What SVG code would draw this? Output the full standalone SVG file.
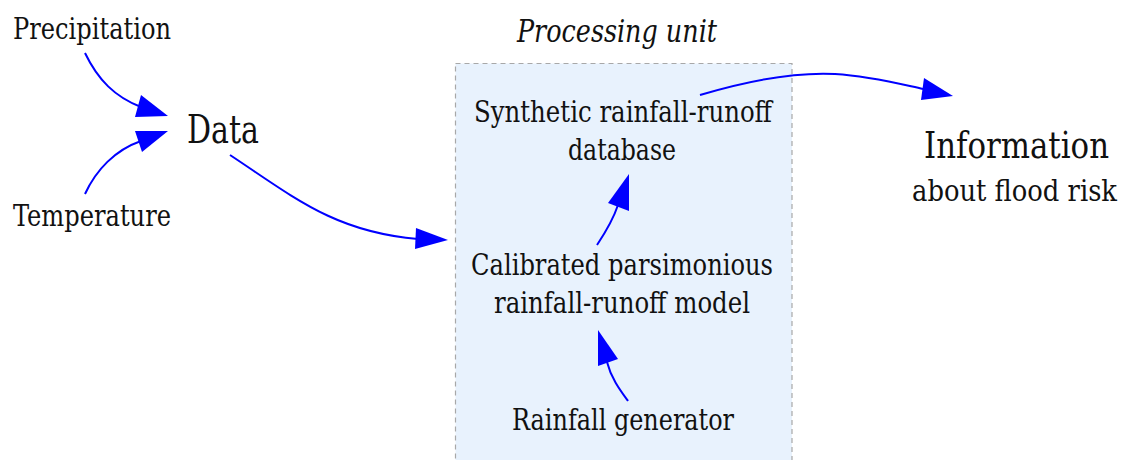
<svg xmlns="http://www.w3.org/2000/svg" width="1131" height="460" viewBox="0 0 1131 460">
  <style>
    text { font-family: "DejaVu Serif Condensed", "DejaVu Serif", "Liberation Serif", serif; fill: #111; }
    .edge { fill: none; stroke: #0000ff; stroke-width: 2; }
    .head { fill: #0000ff; stroke: none; }
    .unit { fill: #e8f2fd; stroke: #a8a8a8; stroke-width: 1.2; stroke-dasharray: 5 4; }
  </style>

  <!-- processing unit container -->
  <g id="processing-unit">
    <rect class="unit" x="455.5" y="63.5" width="336.5" height="410"/>
    <text x="517" y="42" font-size="31" font-style="italic" textLength="200" lengthAdjust="spacingAndGlyphs">Processing unit</text>
  </g>

  <g id="precipitation">
    <text x="13" y="39" font-size="29" textLength="158" lengthAdjust="spacingAndGlyphs">Precipitation</text>
  </g>
  <g id="temperature">
    <text x="13" y="226" font-size="29" textLength="158" lengthAdjust="spacingAndGlyphs">Temperature</text>
  </g>
  <g id="data">
    <text x="187" y="143" font-size="40" textLength="72" lengthAdjust="spacingAndGlyphs">Data</text>
  </g>
  <g id="database">
    <text x="474" y="122" font-size="30" textLength="298" lengthAdjust="spacingAndGlyphs">Synthetic rainfall-runoff</text>
    <text x="568" y="160" font-size="30" textLength="108" lengthAdjust="spacingAndGlyphs">database</text>
  </g>
  <g id="model">
    <text x="471" y="275" font-size="30" textLength="302" lengthAdjust="spacingAndGlyphs">Calibrated parsimonious</text>
    <text x="494" y="313" font-size="30" textLength="256" lengthAdjust="spacingAndGlyphs">rainfall-runoff model</text>
  </g>
  <g id="generator">
    <text x="512" y="430" font-size="30" textLength="222" lengthAdjust="spacingAndGlyphs">Rainfall generator</text>
  </g>
  <g id="information">
    <text x="924" y="158" font-size="38" textLength="185" lengthAdjust="spacingAndGlyphs">Information</text>
    <text x="1117" y="201" font-size="30" text-anchor="end" textLength="205" lengthAdjust="spacingAndGlyphs">about flood risk</text>
  </g>

  <!-- connectors -->
  <g id="connectors">
    <path class="edge" d="M85,53 C98,80 115,97 141,107"/>
    <polygon class="head" points="141,95 168,116 135,117"/>

    <path class="edge" d="M85,194 C96,170 115,150 141,141"/>
    <polygon class="head" points="135,131 168,131 142,152"/>

    <path class="edge" d="M230,155 C295,198 335,232 418,239"/>
    <polygon class="head" points="416,228 448,240 415,249"/>

    <path class="edge" d="M597,245 C605,233 613,220 618,205"/>
    <polygon class="head" points="629,174 629,211 608,203"/>

    <path class="edge" d="M628,401 C620,390 611,378 607,362"/>
    <polygon class="head" points="598,330 618,359 598,366"/>

    <path class="edge" d="M700,95 C750,80 795,72 835,74 C870,76 900,84 923,89"/>
    <polygon class="head" points="924,78 953,96 921,100"/>
  </g>
</svg>
